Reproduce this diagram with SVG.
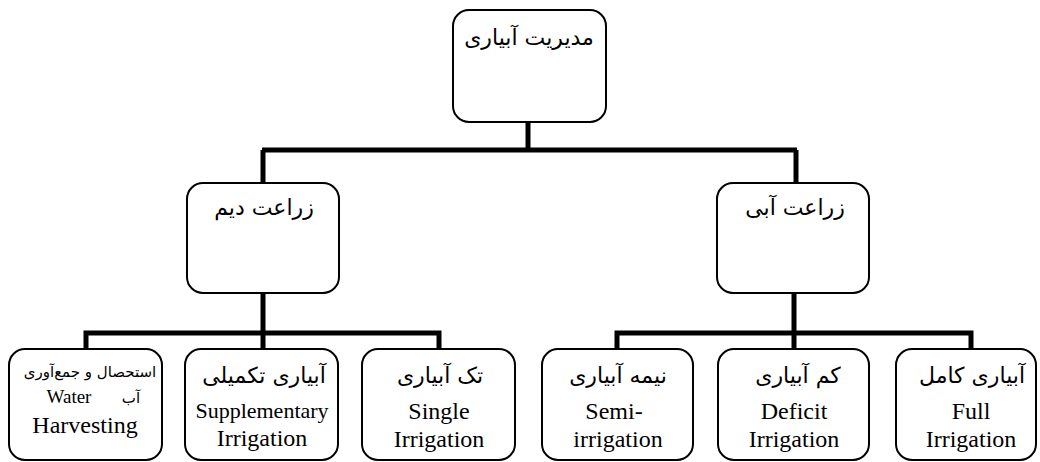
<svg xmlns="http://www.w3.org/2000/svg" width="1040" height="462" viewBox="0 0 1040 462">
<defs>
<style>
.box{fill:#fff;stroke:#000;stroke-width:2}
.fa{fill:#000;text-anchor:middle}
.en{fill:#000;text-anchor:middle}
.con{fill:none;stroke:#000;stroke-width:5;stroke-linejoin:miter;stroke-linecap:butt}
</style>
</defs>
<rect width="1040" height="462" fill="#fff"/>
<g id="connectors">
<path class="con" d="M528 122V150M262 150H797M263 150V183M796 150V183"/>
<path class="con" d="M263 293V333M86 349V333H439V349M263 333V349"/>
<path class="con" d="M794 293V333M617 349V333H971V349M794 333V349"/>
</g>
<g font-family="DejaVu Sans, sans-serif" font-size="22">
<g id="root">
<rect class="box" x="453" y="10" width="153" height="112" rx="16"/>
<text class="fa" x="529" y="45" direction="rtl">مدیریت آبیاری</text>
</g>
<g id="rainfed">
<rect class="box" x="187" y="183" width="152" height="110" rx="16"/>
<text class="fa" x="264" y="215" direction="rtl">زراعت دیم</text>
</g>
<g id="irrigated">
<rect class="box" x="717" y="183" width="152" height="110" rx="16"/>
<text class="fa" x="795" y="215" direction="rtl">زراعت آبی</text>
</g>
<g id="harvesting">
<rect class="box" x="9" y="349" width="153" height="111" rx="16"/>
<text class="fa" x="90" y="377" font-size="15" direction="rtl">استحصال و جمع‌آوری</text>
<text class="fa" x="131" y="403" font-size="15" direction="rtl">آب</text>
<text class="en" x="69" y="403" font-size="19" font-family="Liberation Serif, Times New Roman, serif">Water</text>
<text class="en" x="85" y="433" font-size="24" font-family="Liberation Serif, Times New Roman, serif">Harvesting</text>
</g>
<g id="supplementary">
<rect class="box" x="185" y="349" width="153" height="111" rx="16"/>
<text class="fa" x="264" y="383" direction="rtl">آبیاری تکمیلی</text>
<text class="en" x="262" y="418" font-size="22" font-family="Liberation Serif, Times New Roman, serif">Supplementary</text>
<text class="en" x="262" y="446" font-size="24" font-family="Liberation Serif, Times New Roman, serif">Irrigation</text>
</g>
<g id="single">
<rect class="box" x="362" y="349" width="153" height="111" rx="16"/>
<text class="fa" x="440" y="383" direction="rtl">تک آبیاری</text>
<text class="en" x="439" y="419" font-size="24" font-family="Liberation Serif, Times New Roman, serif">Single</text>
<text class="en" x="439" y="447" font-size="24" font-family="Liberation Serif, Times New Roman, serif">Irrigation</text>
</g>
<g id="semi">
<rect class="box" x="542" y="349" width="151" height="111" rx="16"/>
<text class="fa" x="618" y="383" direction="rtl">نیمه آبیاری</text>
<text class="en" x="614" y="419" font-size="24" font-family="Liberation Serif, Times New Roman, serif">Semi-</text>
<text class="en" x="618" y="447" font-size="24" font-family="Liberation Serif, Times New Roman, serif">irrigation</text>
</g>
<g id="deficit">
<rect class="box" x="718" y="349" width="151" height="111" rx="16"/>
<text class="fa" x="798" y="383" direction="rtl">کم آبیاری</text>
<text class="en" x="794" y="419" font-size="24" font-family="Liberation Serif, Times New Roman, serif">Deficit</text>
<text class="en" x="794" y="447" font-size="24" font-family="Liberation Serif, Times New Roman, serif">Irrigation</text>
</g>
<g id="full">
<rect class="box" x="896" y="349" width="140" height="111" rx="16"/>
<text class="fa" x="972" y="383" direction="rtl">آبیاری کامل</text>
<text class="en" x="971" y="419" font-size="24" font-family="Liberation Serif, Times New Roman, serif">Full</text>
<text class="en" x="971" y="447" font-size="24" font-family="Liberation Serif, Times New Roman, serif">Irrigation</text>
</g>
</g>
</svg>
